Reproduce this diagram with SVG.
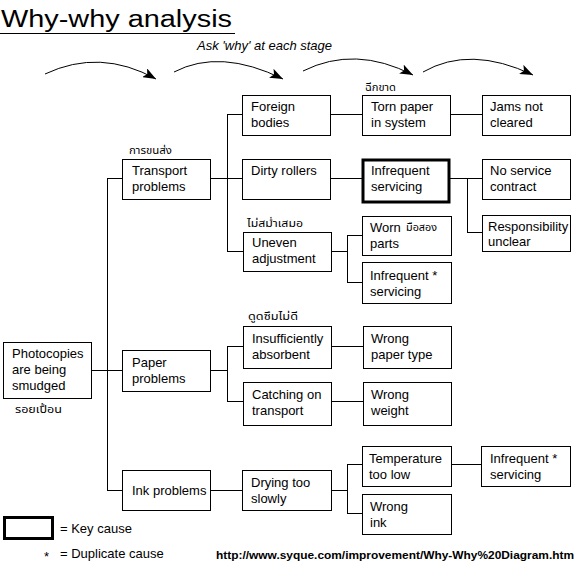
<svg xmlns="http://www.w3.org/2000/svg" width="576" height="567" viewBox="0 0 576 567">
<style>
.bx{fill:#fff;stroke:#000;stroke-width:1}
.key{fill:#fff;stroke:#000;stroke-width:3}
.t{font-family:"Liberation Sans",Arial,sans-serif;font-size:13px;fill:#000}
.th{font-family:"Noto Sans Thai","Noto Sans","DejaVu Sans",sans-serif;font-size:10px;fill:#000}
.c line,.c path{stroke:#000;stroke-width:1;fill:none}
.arc{stroke:#000;stroke-width:1;fill:none}
</style>
<defs>
<marker id="ah" markerUnits="userSpaceOnUse" markerWidth="14" markerHeight="10" refX="13" refY="5" orient="auto">
<path d="M0,0 L13,5 L0,10 L3,5 z" fill="#000"/>
</marker>
</defs>
<rect width="576" height="567" fill="#fff"/>
<g id="title">
<text x="1" y="27" font-family="Liberation Sans,Arial,sans-serif" font-size="23" textLength="231" lengthAdjust="spacingAndGlyphs">Why-why analysis</text>
<line x1="0" y1="33.5" x2="235" y2="33.5" stroke="#000" stroke-width="1"/>
<text x="197" y="50" class="t" font-style="italic">Ask 'why' at each stage</text>
</g>
<g id="stage-arrows">
<path class="arc" d="M45,74 Q100,48 156,79" marker-end="url(#ah)"/>
<path class="arc" d="M174,72 Q220,48 283,79" marker-end="url(#ah)"/>
<path class="arc" d="M303,71 Q355,45 413,75" marker-end="url(#ah)"/>
<path class="arc" d="M423,72 Q470,45 533,75" marker-end="url(#ah)"/>
</g>
<g id="connectors" class="c">
<line x1="91" y1="370.5" x2="122" y2="370.5"/>
<line x1="107.5" y1="178" x2="107.5" y2="490"/>
<line x1="107" y1="178.5" x2="122" y2="178.5"/>
<line x1="107" y1="490.5" x2="122" y2="490.5"/>
<line x1="210" y1="178.5" x2="242" y2="178.5"/>
<line x1="227.5" y1="114" x2="227.5" y2="251"/>
<line x1="227" y1="114.5" x2="242" y2="114.5"/>
<line x1="227" y1="251.5" x2="243" y2="251.5"/>
<line x1="330" y1="114.5" x2="362" y2="114.5"/>
<line x1="450" y1="114.5" x2="482" y2="114.5"/>
<line x1="330" y1="178.5" x2="362" y2="178.5"/>
<line x1="450" y1="178.5" x2="482" y2="178.5"/>
<line x1="467.5" y1="178" x2="467.5" y2="232"/>
<line x1="467" y1="232.5" x2="482" y2="232.5"/>
<line x1="331" y1="251.5" x2="347" y2="251.5"/>
<line x1="347.5" y1="235" x2="347.5" y2="282"/>
<line x1="347" y1="235.5" x2="362" y2="235.5"/>
<line x1="347" y1="282.5" x2="362" y2="282.5"/>
<line x1="210" y1="370.5" x2="227" y2="370.5"/>
<line x1="227.5" y1="346" x2="227.5" y2="401"/>
<line x1="227" y1="346.5" x2="243" y2="346.5"/>
<line x1="227" y1="401.5" x2="243" y2="401.5"/>
<line x1="331" y1="346.5" x2="363" y2="346.5"/>
<line x1="331" y1="401.5" x2="363" y2="401.5"/>
<line x1="210" y1="490.5" x2="242" y2="490.5"/>
<line x1="331" y1="490.5" x2="347" y2="490.5"/>
<line x1="347.5" y1="464" x2="347.5" y2="513"/>
<line x1="347" y1="464.5" x2="362" y2="464.5"/>
<line x1="347" y1="513.5" x2="362" y2="513.5"/>
<line x1="451" y1="464.5" x2="481" y2="464.5"/>
</g>
<g id="n-photocopies">
<rect class="bx" x="3.5" y="342.5" width="88" height="56"/>
<text class="t" x="12" y="358">Photocopies</text>
<text class="t" x="12" y="374">are being</text>
<text class="t" x="12" y="390">smudged</text>
<text class="th" x="15" y="413" textLength="47" lengthAdjust="spacingAndGlyphs">รอยเปื้อน</text>
</g>
<g id="n-transport">
<text class="th" x="129" y="154" textLength="43" lengthAdjust="spacingAndGlyphs">การขนส่ง</text>
<rect class="bx" x="122.5" y="159.5" width="88" height="40"/>
<text class="t" x="132" y="175">Transport</text>
<text class="t" x="132" y="191">problems</text>
</g>
<g id="n-paper">
<rect class="bx" x="122.5" y="350.5" width="88" height="41"/>
<text class="t" x="132" y="367">Paper</text>
<text class="t" x="132" y="383">problems</text>
</g>
<g id="n-ink">
<rect class="bx" x="122.5" y="470.5" width="88" height="40"/>
<text class="t" x="132" y="495">Ink problems</text>
</g>
<g id="n-foreign">
<rect class="bx" x="242.5" y="95.5" width="88" height="40"/>
<text class="t" x="251" y="111">Foreign</text>
<text class="t" x="251" y="127">bodies</text>
</g>
<g id="n-dirty">
<rect class="bx" x="242.5" y="159.5" width="88" height="40"/>
<text class="t" x="251" y="175">Dirty rollers</text>
</g>
<g id="n-uneven">
<text class="th" x="247" y="227" textLength="56" lengthAdjust="spacingAndGlyphs">ไม่สม่ำเสมอ</text>
<rect class="bx" x="243.5" y="232.5" width="88" height="39"/>
<text class="t" x="252" y="247">Uneven</text>
<text class="t" x="252" y="263">adjustment</text>
</g>
<g id="n-insufficient">
<text class="th" x="248" y="320" textLength="50" lengthAdjust="spacingAndGlyphs">ดูดซึมไม่ดี</text>
<rect class="bx" x="243.5" y="326.5" width="88" height="42"/>
<text class="t" x="252" y="343">Insufficiently</text>
<text class="t" x="252" y="359">absorbent</text>
</g>
<g id="n-catching">
<rect class="bx" x="243.5" y="382.5" width="88" height="43"/>
<text class="t" x="252" y="399">Catching on</text>
<text class="t" x="252" y="415">transport</text>
</g>
<g id="n-drying">
<rect class="bx" x="242.5" y="470.5" width="89" height="40"/>
<text class="t" x="251" y="487">Drying too</text>
<text class="t" x="251" y="503">slowly</text>
</g>
<g id="n-torn">
<text class="th" x="365" y="91" textLength="31" lengthAdjust="spacingAndGlyphs">ฉีกขาด</text>
<rect class="bx" x="362.5" y="95.5" width="88" height="40"/>
<text class="t" x="371" y="111">Torn paper</text>
<text class="t" x="371" y="127">in system</text>
</g>
<g id="n-infrequent-key">
<rect class="key" x="363" y="160" width="86" height="42"/>
<text class="t" x="371" y="175">Infrequent</text>
<text class="t" x="371" y="191">servicing</text>
</g>
<g id="n-worn">
<rect class="bx" x="362.5" y="216.5" width="89" height="39"/>
<text class="t" x="370" y="232">Worn</text>
<text class="th" x="406" y="231" textLength="31" lengthAdjust="spacingAndGlyphs">มือสอง</text>
<text class="t" x="370" y="248">parts</text>
</g>
<g id="n-infrequent-2">
<rect class="bx" x="362.5" y="262.5" width="89" height="41"/>
<text class="t" x="370" y="280">Infrequent *</text>
<text class="t" x="370" y="296">servicing</text>
</g>
<g id="n-wrong-paper">
<rect class="bx" x="363.5" y="326.5" width="88" height="42"/>
<text class="t" x="371" y="343">Wrong</text>
<text class="t" x="371" y="359">paper type</text>
</g>
<g id="n-wrong-weight">
<rect class="bx" x="363.5" y="382.5" width="88" height="43"/>
<text class="t" x="371" y="399">Wrong</text>
<text class="t" x="371" y="415">weight</text>
</g>
<g id="n-temperature">
<rect class="bx" x="362.5" y="446.5" width="89" height="40"/>
<text class="t" x="369" y="463">Temperature</text>
<text class="t" x="369" y="479">too low</text>
</g>
<g id="n-wrong-ink">
<rect class="bx" x="362.5" y="494.5" width="89" height="40"/>
<text class="t" x="370" y="511">Wrong</text>
<text class="t" x="370" y="527">ink</text>
</g>
<g id="n-jams">
<rect class="bx" x="482.5" y="95.5" width="88" height="40"/>
<text class="t" x="490" y="111">Jams not</text>
<text class="t" x="490" y="127">cleared</text>
</g>
<g id="n-no-service">
<rect class="bx" x="482.5" y="159.5" width="88" height="40"/>
<text class="t" x="490" y="175">No service</text>
<text class="t" x="490" y="191">contract</text>
</g>
<g id="n-responsibility">
<rect class="bx" x="482.5" y="215.5" width="88" height="36"/>
<text class="t" x="488" y="231">Responsibility</text>
<text class="t" x="488" y="246">unclear</text>
</g>
<g id="n-infrequent-3">
<rect class="bx" x="481.5" y="446.5" width="89" height="40"/>
<text class="t" x="490" y="463">Infrequent *</text>
<text class="t" x="490" y="479">servicing</text>
</g>
<g id="legend">
<rect class="key" x="4.5" y="517.5" width="48" height="21"/>
<text class="t" x="60" y="533">= Key cause</text>
<text class="t" x="44" y="561" font-size="11">*</text>
<text class="t" x="60" y="558">= Duplicate cause</text>
<text x="216" y="559" font-family="Liberation Sans,Arial,sans-serif" font-size="11" font-weight="bold" textLength="358" lengthAdjust="spacingAndGlyphs">http://www.syque.com/improvement/Why-Why%20Diagram.htm</text>
</g>
</svg>
